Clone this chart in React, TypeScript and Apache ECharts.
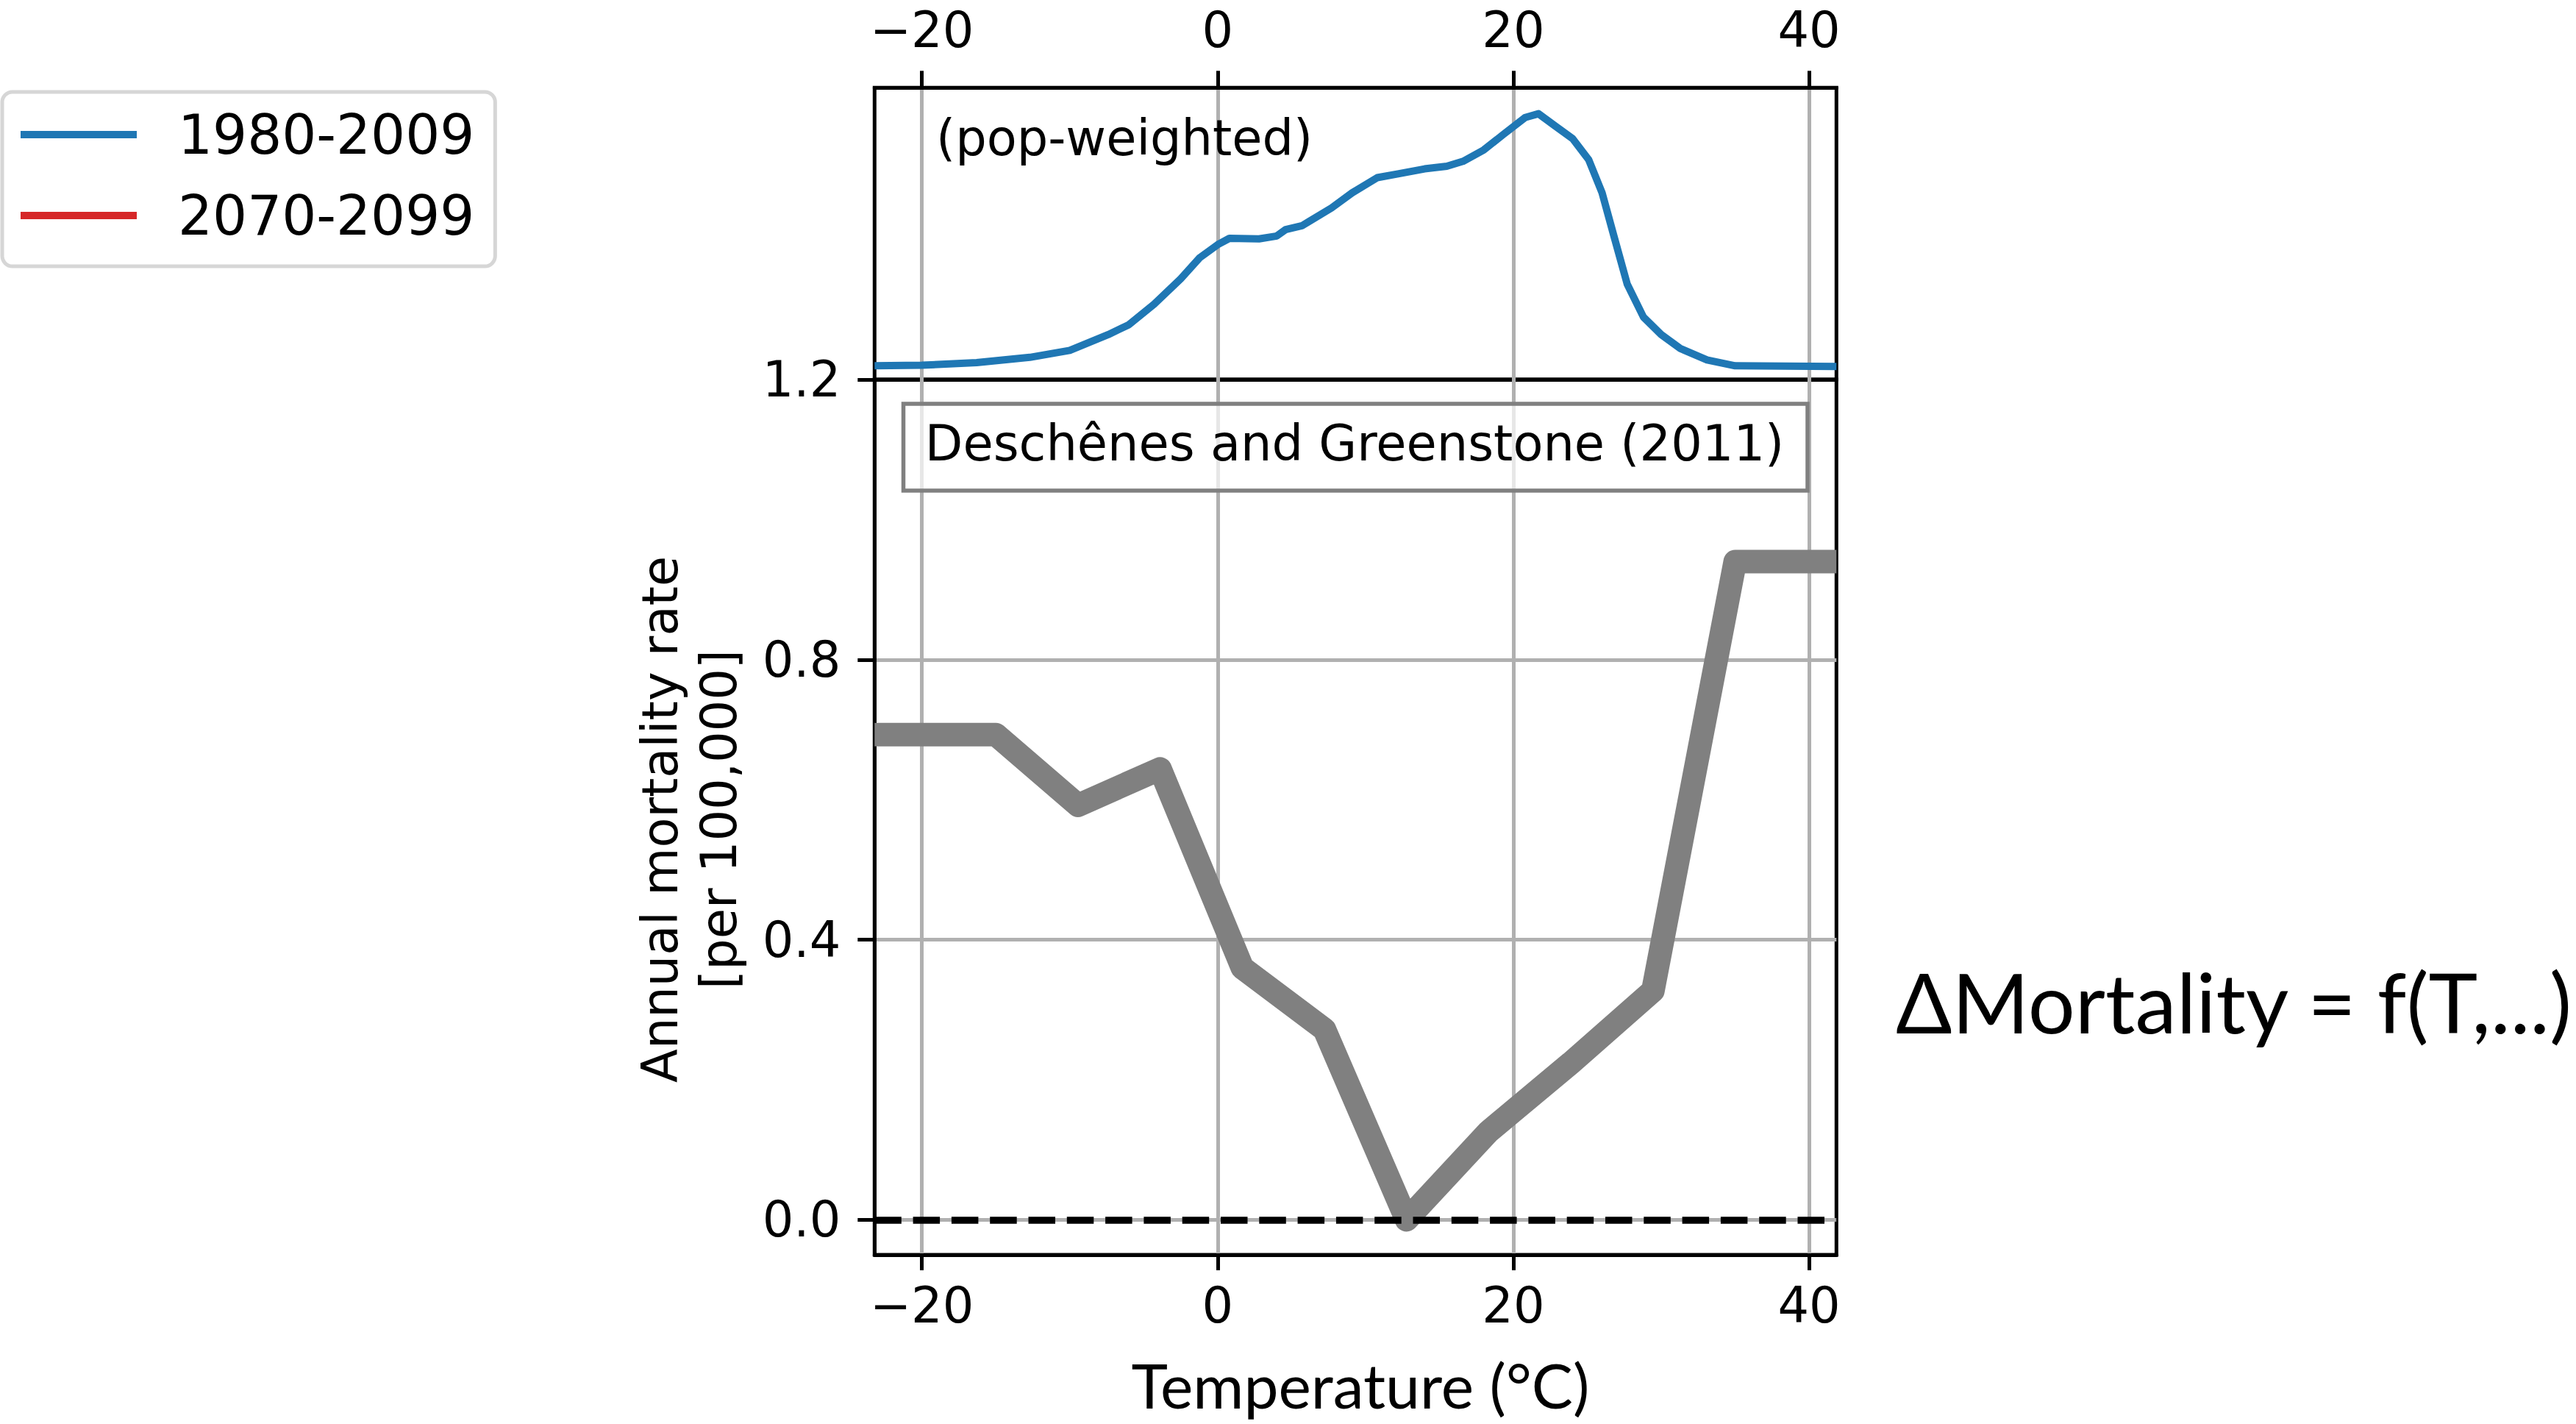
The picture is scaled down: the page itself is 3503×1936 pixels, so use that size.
import { useEffect, useRef } from "react";
import * as echarts from "echarts";

const W = 3503;
const H = 1936;

// Temperature extent shared by both panels (°C) and tick positions
const tempMin = -23.2;
const tempMax = 41.85;
const tempTicks = [-20, 0, 20, 40];
const rateTicks = [0, 0.4, 0.8, 1.2];

// Population-weighted distribution of daily temperature, 1980-2009 (relative density)
const popTemps = [
  -23.2, -20, -16.3, -12.7, -10, -7.4, -6, -4.3, -2.5, -1.2, 0, 0.8, 2.8, 4, 4.6, 5.7,
  7.7, 9.1, 10.8, 12.2, 14, 15.5, 16.6, 18, 19.3, 20.8, 21.7, 22.8, 24, 25.1, 26, 26.8,
  27.7, 28.8, 30, 31.3, 33.1, 35, 41.85,
];
const popWeights = [
  0.047, 0.049, 0.058, 0.076, 0.1, 0.154, 0.188, 0.258, 0.345, 0.418, 0.462, 0.484, 0.482,
  0.492, 0.514, 0.527, 0.588, 0.64, 0.692, 0.705, 0.722, 0.731, 0.748, 0.787, 0.839, 0.898,
  0.911, 0.87, 0.826, 0.753, 0.64, 0.492, 0.327, 0.214, 0.154, 0.106, 0.067, 0.047, 0.045,
];

// Deschênes and Greenstone (2011): mortality response at 10°F bin centres (in °C)
const binTemps = [-23.2, -15, -9.44, -3.89, 1.67, 7.22, 12.78, 18.33, 23.89, 29.44, 35, 41.85];
const mortalityRate = [0.693, 0.693, 0.592, 0.644, 0.36, 0.272, 0.0, 0.126, 0.224, 0.327, 0.94, 0.94];

// Legend entries
const periodNames = ["1980-2009", "2070-2099"];
const periodColors = ["#1f77b4", "#d62728"];

const DEJAVU = "DejaVu Sans";
const LATO = "Lato";
const TICK_FONT = 67;

const fmtTemp = (v: number) => (v < 0 ? "\u2212" + Math.abs(v) : String(v));

export default function App() {
  const ref = useRef<HTMLDivElement>(null);

  useEffect(() => {
    if (!ref.current) return;
    const chart = echarts.init(ref.current, undefined, { renderer: "svg" });

    const gridLeft = 1189.3;
    const gridWidth = 2497.3 - 1189.3;
    const topPanel = { top: 119.3, height: 516 - 119.3 };
    const bottomPanel = { top: 516, height: 1706 - 516 };

    const border = { show: true, borderColor: "#000", borderWidth: 5, backgroundColor: "transparent" };
    const gridLine = { show: true, lineStyle: { color: "#b0b0b0", width: 5 } };
    const tickStyle = { color: "#000", width: 5 };
    const labelBase = { fontFamily: DEJAVU, fontSize: TICK_FONT, color: "#000" };

    chart.setOption({
      animation: false,
      backgroundColor: "#fff",
      legend: {
        data: periodNames.map((n) => ({ name: n, icon: "rect" })),
        orient: "vertical",
        left: 3,
        top: 125,
        itemWidth: 158,
        itemHeight: 10,
        itemGap: 36,
        padding: [21, 28, 32, 25],
        backgroundColor: "#fff",
        borderColor: "#d6d6d6",
        borderWidth: 5,
        borderRadius: 14,
        itemStyle: { borderWidth: 0 },
        textStyle: { fontFamily: DEJAVU, fontSize: 74, color: "#000", padding: [0, 0, 0, 51] },
      },
      grid: [
        { left: gridLeft, width: gridWidth, top: topPanel.top, height: topPanel.height, ...border },
        { left: gridLeft, width: gridWidth, top: bottomPanel.top, height: bottomPanel.height, ...border },
      ],
      xAxis: [
        {
          gridIndex: 0,
          type: "value",
          position: "top",
          min: tempMin,
          max: tempMax,
          axisLine: { show: true, onZero: false, lineStyle: tickStyle },
          axisTick: { show: true, length: 23, lineStyle: tickStyle, customValues: tempTicks },
          axisLabel: { ...labelBase, margin: 45, customValues: tempTicks, formatter: fmtTemp },
          splitLine: gridLine,
        },
        {
          gridIndex: 1,
          type: "value",
          position: "bottom",
          min: tempMin,
          max: tempMax,
          axisLine: { show: true, onZero: false, lineStyle: tickStyle },
          axisTick: { show: true, length: 21, lineStyle: tickStyle, customValues: tempTicks },
          axisLabel: { ...labelBase, margin: 35, customValues: tempTicks, formatter: fmtTemp },
          splitLine: gridLine,
        },
      ],
      yAxis: [
        { gridIndex: 0, type: "value", min: 0, max: 1, show: false },
        {
          gridIndex: 1,
          type: "value",
          position: "left",
          min: -0.05,
          max: 1.2,
          axisLine: { show: true, onZero: false, lineStyle: tickStyle },
          axisTick: { show: true, length: 23, lineStyle: tickStyle, customValues: rateTicks },
          axisLabel: {
            ...labelBase,
            margin: 46,
            customValues: rateTicks,
            formatter: (v: number) => v.toFixed(1),
          },
          // the 1.2 line doubles as the frame shared by both panels, so it stays black
          splitLine: {
            show: true,
            lineStyle: { color: ["#b0b0b0", "#b0b0b0", "#b0b0b0", "#000"], width: 5 },
          },
        },
      ],
      series: [
        {
          name: periodNames[0],
          type: "line",
          xAxisIndex: 0,
          yAxisIndex: 0,
          data: popTemps.map((t, i) => [t, popWeights[i]]),
          symbol: "none",
          color: periodColors[0],
          lineStyle: { width: 10, color: periodColors[0], join: "round" },
          clip: true,
          z: 3,
        },
        {
          name: periodNames[1],
          type: "line",
          xAxisIndex: 0,
          yAxisIndex: 0,
          data: [],
          symbol: "none",
          color: periodColors[1],
          lineStyle: { width: 10, color: periodColors[1] },
        },
        {
          name: "Deschênes and Greenstone (2011)",
          type: "line",
          xAxisIndex: 1,
          yAxisIndex: 1,
          data: binTemps.map((t, i) => [t, mortalityRate[i]]),
          symbol: "none",
          color: "#808080",
          lineStyle: { width: 32, color: "#808080", join: "round" },
          clip: true,
          z: 3,
          markLine: {
            silent: true,
            symbol: "none",
            z: 6,
            label: { show: false },
            lineStyle: { color: "#000", width: 9.5, type: [36.5, 15.8] },
            data: [{ yAxis: 0 }],
          },
        },
      ],
      graphic: [
        {
          type: "rect",
          z: 10,
          shape: { x: 1228.5, y: 549, width: 1229.5, height: 118 },
          style: { fill: "rgba(255,255,255,0.7)", stroke: "#808080", lineWidth: 5.5 },
        },
        {
          type: "text",
          z: 11,
          x: 1842,
          y: 603,
          style: {
            text: "Deschênes and Greenstone (2011)",
            fontFamily: DEJAVU,
            fontSize: 67,
            fill: "#000",
            align: "center",
            verticalAlign: "middle",
          },
        },
        {
          type: "text",
          z: 11,
          x: 1273,
          y: 188,
          style: {
            text: "(pop-weighted)",
            fontFamily: DEJAVU,
            fontSize: 67,
            fill: "#000",
            align: "left",
            verticalAlign: "middle",
          },
        },
        {
          type: "text",
          z: 11,
          x: 938,
          y: 1114,
          rotation: Math.PI / 2,
          style: {
            text: "Annual mortality rate\n[per 100,000]",
            fontFamily: DEJAVU,
            fontSize: 67,
            lineHeight: 80,
            fill: "#000",
            align: "center",
            verticalAlign: "middle",
          },
        },
        {
          type: "text",
          z: 11,
          x: 1850,
          y: 1882,
          style: {
            text: "Temperature (°C)",
            fontFamily: LATO,
            fontSize: 84,
            fill: "#000",
            align: "center",
            verticalAlign: "middle",
          },
        },
        {
          type: "text",
          z: 11,
          x: 2578,
          y: 1361,
          style: {
            text: "ΔMortality = f(T,...)",
            fontFamily: LATO,
            fontSize: 113,
            fill: "#000",
            align: "left",
            verticalAlign: "middle",
          },
        },
      ],
    });

    return () => chart.dispose();
  }, []);

  return (
    <div
      ref={ref}
      style={{ position: "fixed", left: 0, top: 0, width: W, height: H, background: "#fff" }}
    />
  );
}
